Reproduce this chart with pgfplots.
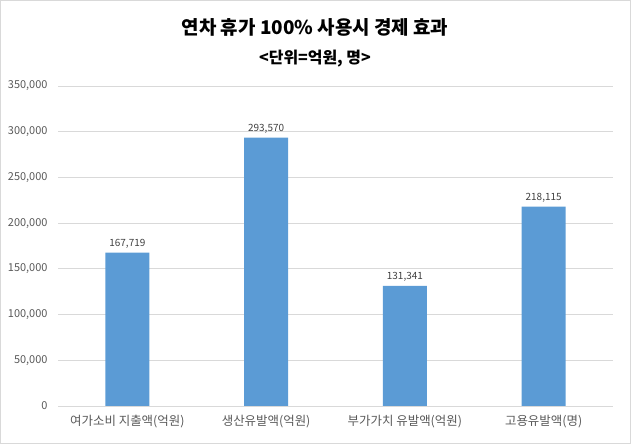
\documentclass[border=0pt]{standalone}
\usepackage{pgfplots}
\pgfplotsset{compat=1.18}
\usepackage{fontspec}
\setmainfont{Noto Sans CJK KR}
\definecolor{barblue}{HTML}{5B9BD5}
\definecolor{gridgray}{HTML}{D9D9D9}
\definecolor{ticktext}{HTML}{595959}
\definecolor{labeltext}{HTML}{404040}
\begin{document}
\begin{tikzpicture}[x=1bp,y=1bp]
\path[use as bounding box] (0,0) rectangle (631,446);
\draw[gridgray, line width=0.8bp] (0.5,3) rectangle (630.5,445.5);
\node[font=\fontsize{19}{21}\selectfont\bfseries, text=black] at (315,419) {연차 휴가 100\% 사용시 경제 효과};
\node[font=\fontsize{16}{18}\selectfont\bfseries, text=black] at (315,387) {<단위=억원, 명>};
\begin{axis}[
  at={(58bp,40bp)}, anchor=south west,
  scale only axis, width=555bp, height=320bp,
  xmin=-0.5, xmax=3.5, ymin=0, ymax=350000,
  ytick={0,50000,...,350000},
  xtick=data,
  xticklabels={여가소비 지출액(억원),생산유발액(억원),부가가치 유발액(억원),고용유발액(명)},
  scaled y ticks=false,
  /pgf/number format/fixed,
  /pgf/number format/1000 sep={,},
  /pgf/number format/assume math mode=true,
  yticklabel style={font=\fontsize{11}{12}\selectfont, text=ticktext, xshift=-7bp},
  xticklabel style={font=\fontsize{12.5}{14}\selectfont, text=ticktext, yshift=-6bp},
  ymajorgrids, grid style={gridgray, line width=0.8bp},
  axis line style={draw=none},
  major tick length=0pt,
  bar width=44bp,
  nodes near coords,
  nodes near coords style={font=\fontsize{10}{11}\selectfont, text=labeltext, yshift=1bp},
  clip=false,
]
\addplot[ybar, fill=barblue, draw=none] coordinates {(0,167719) (1,293570) (2,131341) (3,218115)};
\end{axis}
\end{tikzpicture}
\end{document}
